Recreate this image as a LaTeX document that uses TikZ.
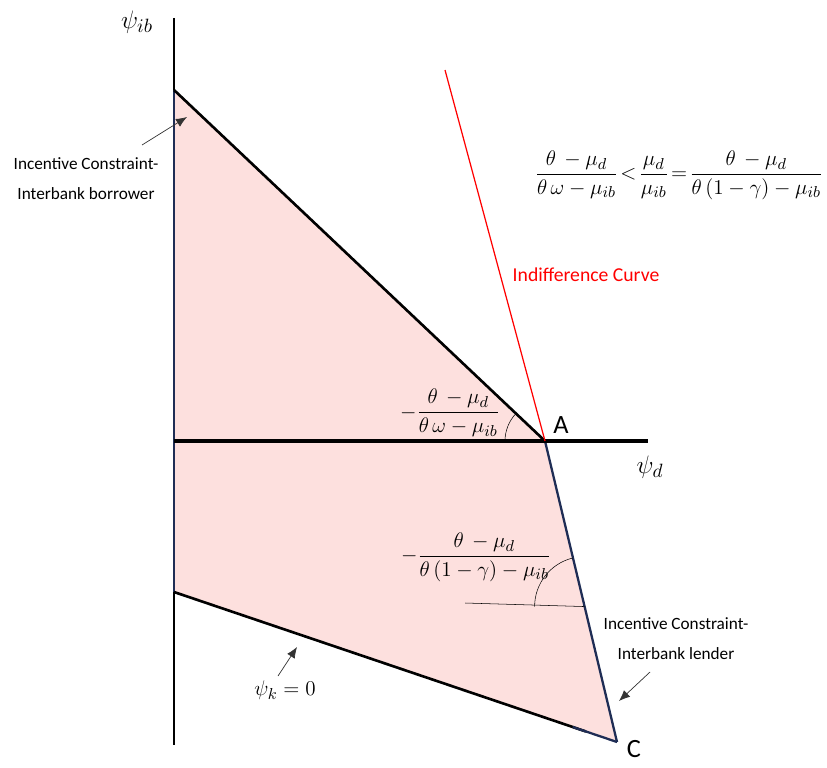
\documentclass[tikz,border=0pt]{standalone}
\usepackage{amsmath,amssymb}
\usepackage{fontspec}
\newfontfamily\calib{Carlito}
\usetikzlibrary{arrows.meta}
\usetikzlibrary{positioning,calc}
\definecolor{regionpink}{RGB}{253,224,222}
\definecolor{edgenavy}{RGB}{31,45,85}

\begin{document}
\begin{tikzpicture}[x=0.02cm,y=-0.02cm,
  note/.style={font=\calib\fontsize{9.8}{17}\selectfont,align=center,inner sep=1pt},
  corner/.style={font=\calib\fontsize{15}{17}\selectfont,inner sep=1pt},
  mlabel/.style={font=\fontsize{13}{15}\selectfont,inner sep=1pt},
  pointer/.style={-{Latex[length=2.2mm,width=1.8mm]},line width=0.4pt,black!80},
  edge/.style={edgenavy,line width=1.3pt},
  thickedge/.style={black,line width=1.5pt}]
\useasboundingbox (0,0) rectangle (827,767);

% corners of the region
\coordinate (O) at (174,441);
\coordinate (T) at (174,90);
\coordinate (A) at (545,441);
\coordinate (C) at (617,742);
\coordinate (B) at (174,592);
\coordinate (ytop) at (174,18);
\coordinate (ybot) at (174,745);
\coordinate (xend) at (648,441);
\coordinate (ictop) at (445,70);

\fill[regionpink] (T) -- (A) -- (C) -- (B) -- cycle;
\draw[line width=0.6pt] (ytop) -- (ybot);
\draw[edge] (T) -- (B);
\draw[edge] (A) -- (C);
\draw[thickedge] (T) -- (A);
\draw[thickedge] (B) -- ($(B)!0.93!(C)$);
\draw[edge] ($(B)!0.9!(C)$) -- (C);
\draw[black,line width=1.8pt] (O) -- (xend);
\draw[red,line width=0.7pt] (ictop) -- (A);

% angle marks
\draw[line width=0.3pt] ([xshift=-0.8cm]A) arc (180:136.6:0.8cm);
\coordinate (acmid) at ($(A)!0.55!(C)$);
\coordinate (hleft) at (465,603);
\draw[line width=0.3pt] (hleft) -- (acmid);
\draw[line width=0.3pt] ([xshift=-1cm]acmid) arc (180:103.5:1cm);

% axis labels
\node[mlabel,font=\fontsize{15}{17}\selectfont] (psiib) at (137,22) {$\psi_{ib}$};
\node[mlabel,font=\fontsize{15}{17}\selectfont] (psid) at (650,467) {$\psi_d$};
\node[corner] (Alab) at (561,425) {A};
\node[corner] (Clab) at (634,749) {C};

% slopes
\node[mlabel] (slopeA) at (450,413) {$-\dfrac{\theta\,-\mu_d}{\theta\,\omega-\mu_{ib}}$};
\node[mlabel] (slopeC) at (476,557) {$-\dfrac{\theta\,-\mu_d}{\theta\,(1-\gamma)-\mu_{ib}}$};
\node[mlabel] (cond) at (679,175) {$\dfrac{\theta\,-\mu_d}{\theta\,\omega-\mu_{ib}}\!<\!\dfrac{\mu_d}{\mu_{ib}}\!=\!\dfrac{\theta\,-\mu_d}{\theta\,(1-\gamma)-\mu_{ib}}$};
\node[note,text=red,font=\calib\fontsize{11.2}{13}\selectfont] (icurve) at (586,275) {Indifference Curve};

% constraint notes
\node[note] (ibnote) at (86,179) {Incentive Constraint-\\Interbank borrower};
\coordinate (ibtail) at (142,145);
\coordinate (ibtip) at (187,117);
\draw[pointer] (ibtail) -- (ibtip);

\node[note] (lnote) at (676,639) {Incentive Constraint-\\Interbank lender};
\coordinate (ltail) at (650,672);
\coordinate (ltip) at (619,701);
\draw[pointer] (ltail) -- (ltip);

\node[mlabel] (psik) at (285,690) {$\psi_k=0$};
\coordinate (ktail) at (278,676);
\coordinate (ktip) at (297,647);
\draw[pointer] (ktail) -- (ktip);
\end{tikzpicture}
\end{document}
